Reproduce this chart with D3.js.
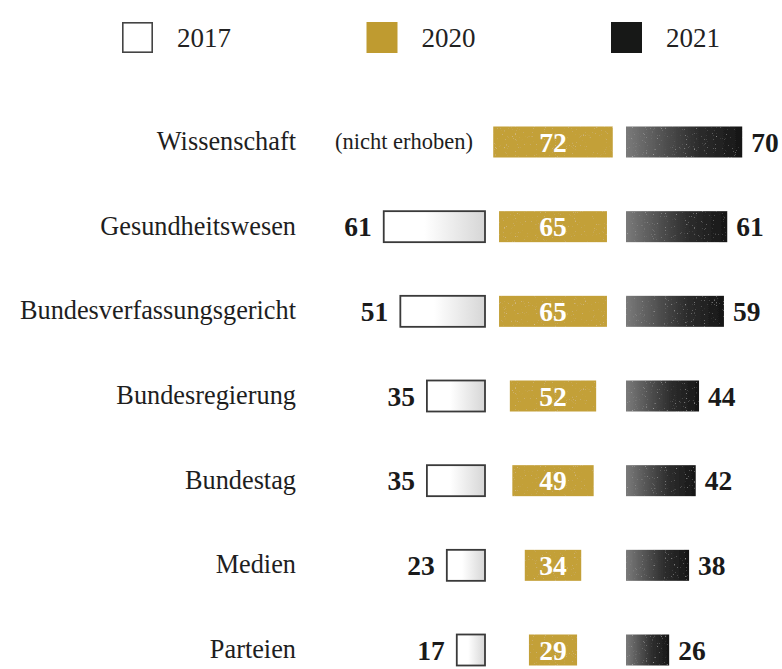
<!DOCTYPE html>
<html><head><meta charset="utf-8">
<script src="https://cdn.jsdelivr.net/npm/d3@7"></script>
<style>html,body{margin:0;padding:0;background:#fff}</style>
</head><body>
<svg id="c" width="782" height="669"></svg>
<script>
const categories = ["Wissenschaft","Gesundheitswesen","Bundesverfassungsgericht","Bundesregierung","Bundestag","Medien","Parteien"];
const v2017 = [null, 61, 51, 35, 35, 23, 17];
const v2020 = [72, 65, 65, 52, 49, 34, 29];
const v2021 = [70, 61, 59, 44, 42, 38, 26];
const years = ["2017","2020","2021"];
const missingLabel = "(nicht erhoben)";

const svg = d3.select("#c");
const serif = "'Liberation Serif','Times New Roman',serif";
const defs = svg.append("defs");

const g17 = defs.append("linearGradient").attr("id","g17");
g17.append("stop").attr("offset","0.4").attr("stop-color","#ffffff");
g17.append("stop").attr("offset","1").attr("stop-color","#d6d6d6");
const g21 = defs.append("linearGradient").attr("id","g21");
g21.append("stop").attr("offset","0").attr("stop-color","#7a7a7a");
g21.append("stop").attr("offset","0.6").attr("stop-color","#2e2e2e");
g21.append("stop").attr("offset","1").attr("stop-color","#161616");

const f = defs.append("filter").attr("id","speck").attr("x","0").attr("y","0").attr("width","1").attr("height","1");
f.append("feTurbulence").attr("type","fractalNoise").attr("baseFrequency","0.9").attr("numOctaves","2").attr("seed","4").attr("result","n");
f.append("feColorMatrix").attr("in","n").attr("type","matrix")
 .attr("values","0 0 0 0 1  0 0 0 0 1  0 0 0 0 1  1.2 0 0 0 -0.82").attr("result","sp");
f.append("feComposite").attr("in","sp").attr("in2","SourceGraphic").attr("operator","in").attr("result","spc");
const fm = f.append("feMerge");
fm.append("feMergeNode").attr("in","SourceGraphic");
fm.append("feMergeNode").attr("in","spc");

const y = d3.scalePoint().domain(categories).range([142, 650]);
const w = d3.scaleLinear().domain([0,100]).range([0,166]);
const barH = 31;
const x17R = 485, x20C = 553, x21L = 626;

// legend
const legX = d3.scalePoint().domain(years).range([122, 611]);
const legend = svg.append("g").selectAll("g").data(years).join("g")
  .attr("transform", d => `translate(${legX(d)},22)`);
legend.append("rect")
  .attr("fill", (d,i) => ["#fff","#bf9b30","#171817"][i])
  .attr("stroke", (d,i) => i===0 ? "#444" : "none").attr("stroke-width",1.6)
  .attr("x", (d,i)=> i===0?0.8:0).attr("y",(d,i)=>i===0?0.8:0)
  .attr("width",(d,i)=>i===0?29.4:31).attr("height",(d,i)=>i===0?29.4:31);
legend.append("text").attr("x",55).attr("y",25).text(d=>d)
  .attr("font-family",serif).attr("font-size",27).attr("fill","#222");

// rows
const rows = svg.append("g").selectAll("g").data(categories).join("g")
  .attr("transform", d => `translate(0,${y(d)})`);

rows.append("text").attr("x",296).attr("y",8).attr("text-anchor","end")
  .attr("font-family",serif).attr("font-size",26.3).attr("fill","#1e1e1e").text(d=>d);

rows.each(function(d,i){
  const g = d3.select(this);
  // 2017
  const v = v2017[i];
  if (v == null) {
    g.append("text").attr("x",x17R-12).attr("y",7).attr("text-anchor","end")
      .attr("font-family",serif).attr("font-size",22.5).attr("fill","#1e1e1e").text(missingLabel);
  } else {
    g.append("rect").attr("x",x17R - w(v)).attr("y",-barH/2).attr("width",w(v)).attr("height",barH)
      .attr("fill","url(#g17)").attr("stroke","#3a3a3a").attr("stroke-width",1.8);
    g.append("text").attr("x",x17R - w(v) - 12).attr("y",9.5).attr("text-anchor","end")
      .attr("font-family",serif).attr("font-weight","bold").attr("font-size",27.5).attr("fill","#1a1a1a").text(v);
  }
  // 2020
  const v2 = v2020[i];
  g.append("rect").attr("x",x20C - w(v2)/2).attr("y",-barH/2).attr("width",w(v2)).attr("height",barH)
    .attr("fill","#c3a037").attr("filter","url(#speck)");
  g.append("text").attr("x",x20C).attr("y",9.5).attr("text-anchor","middle")
    .attr("font-family",serif).attr("font-weight","bold").attr("font-size",27.5).attr("fill","#fff").text(v2);
  // 2021
  const v3 = v2021[i];
  g.append("rect").attr("x",x21L).attr("y",-barH/2).attr("width",w(v3)).attr("height",barH)
    .attr("fill","url(#g21)").attr("filter","url(#speck)");
  g.append("text").attr("x",x21L + w(v3) + 9).attr("y",9.5)
    .attr("font-family",serif).attr("font-weight","bold").attr("font-size",27.5).attr("fill","#1a1a1a").text(v3);
});
</script>
</body></html>
